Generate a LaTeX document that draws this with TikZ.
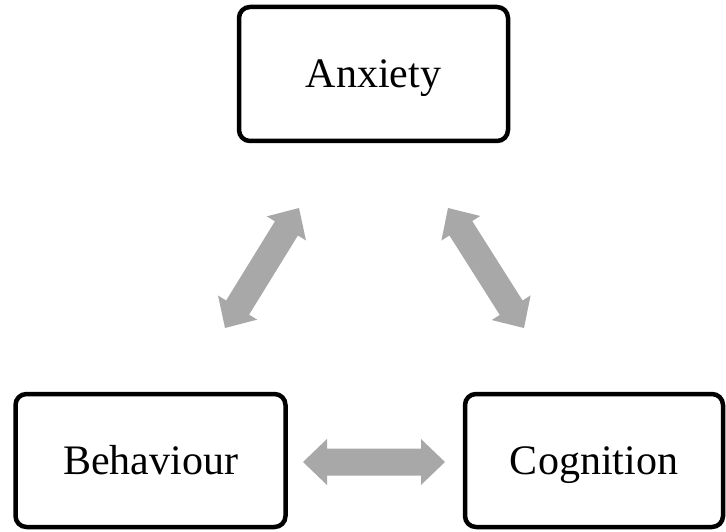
\documentclass[tikz,border=0pt]{standalone}
\usepackage{fontspec}
\setmainfont{Liberation Serif}
\usetikzlibrary{calc}
\definecolor{arrgray}{HTML}{A8A8A8}
\tikzset{
  box/.style={draw=black, line width=4.5pt, rounded corners=11pt, fill=white,
    font=\fontsize{42}{50}\selectfont, text height=28pt, text depth=0pt, inner sep=0pt},
  arrfill/.style={fill=arrgray}
}
\newcommand\dblarr[2]{%
  \coordinate (#1h) at ($(#1)!24pt!(#2)$);
  \coordinate (#2h) at ($(#2)!24pt!(#1)$);
  \fill[arrfill] (#1) -- ($(#1h)!23pt!90:(#2)$) -- ($(#1h)!13.5pt!90:(#2)$)
    -- ($(#2h)!13.5pt!-90:(#1)$) -- ($(#2h)!23pt!-90:(#1)$) -- (#2)
    -- ($(#2h)!23pt!90:(#1)$) -- ($(#2h)!13.5pt!90:(#1)$)
    -- ($(#1h)!13.5pt!-90:(#2)$) -- ($(#1h)!23pt!-90:(#2)$) -- cycle;}
\begin{document}
\begin{tikzpicture}[x=1pt,y=-1pt]
\useasboundingbox (0,0) rectangle (726,532);
\node[box, minimum width=269pt, minimum height=134pt] (anx) at (373.5,74) {Anxiety};
\node[box, minimum width=270pt, minimum height=133pt] (beh) at (150.5,460.5) {Behaviour};
\node[box, minimum width=258pt, minimum height=133pt] (cog) at (594,460.5) {Cognition};
\coordinate (la) at (299,208);
\coordinate (lb) at (225,328);
\coordinate (ra) at (448,208);
\coordinate (rb) at (524,328);
\coordinate (ba) at (303,462);
\coordinate (bb) at (445,462);
\dblarr{la}{lb}
\dblarr{ra}{rb}
\dblarr{ba}{bb}
\end{tikzpicture}
\end{document}
